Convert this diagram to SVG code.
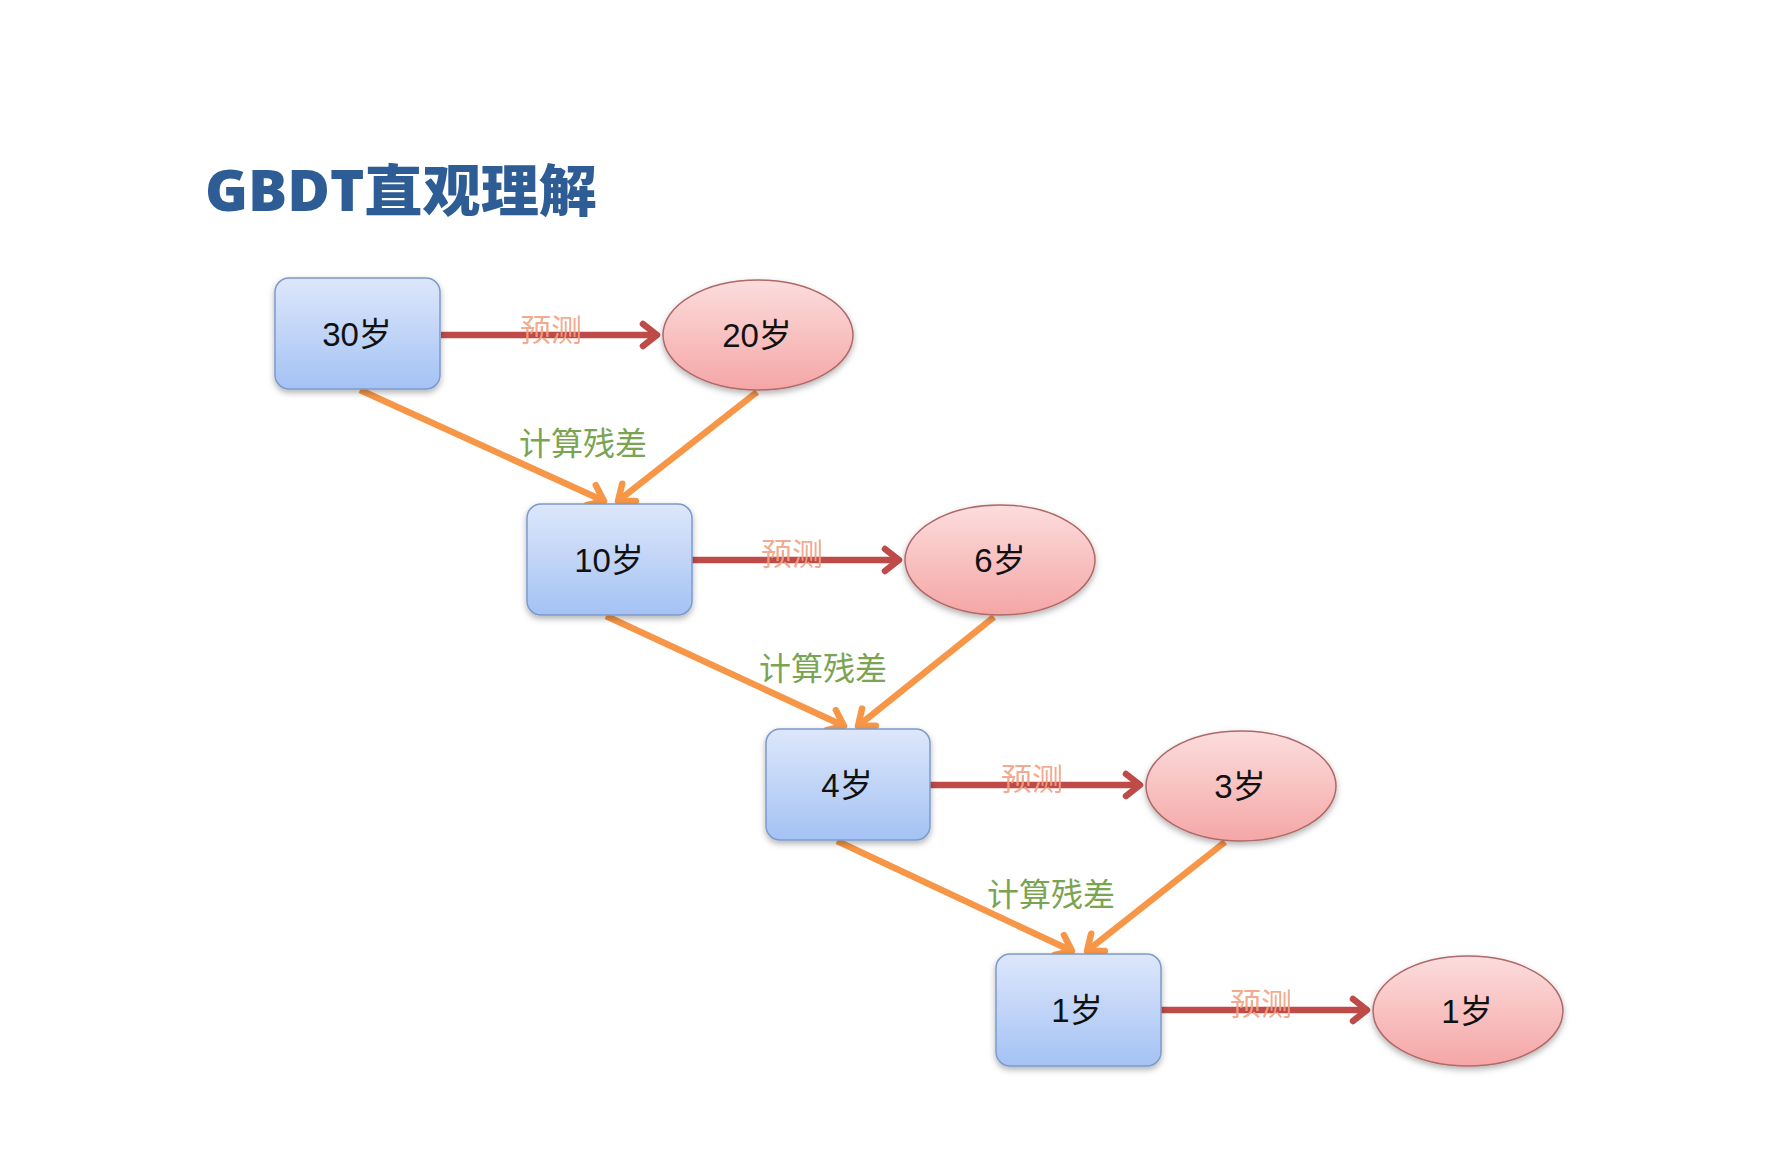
<svg xmlns="http://www.w3.org/2000/svg" width="1792" height="1171" viewBox="0 0 1792 1171">
  <defs>
    <linearGradient id="gBlue" x1="0" y1="0" x2="0" y2="1">
      <stop offset="0" stop-color="#DDE7FB"/>
      <stop offset="1" stop-color="#A4C2F4"/>
    </linearGradient>
    <linearGradient id="gPink" x1="0" y1="0" x2="0" y2="1">
      <stop offset="0" stop-color="#FCDDDD"/>
      <stop offset="1" stop-color="#F5A6A6"/>
    </linearGradient>
    <filter id="shadow" x="-20%" y="-20%" width="140%" height="150%">
      <feDropShadow dx="0" dy="3" stdDeviation="3" flood-color="#000" flood-opacity="0.3"/>
    </filter>
    <marker id="arrRed" markerUnits="userSpaceOnUse" markerWidth="30" markerHeight="30" refX="18" refY="13" orient="auto" overflow="visible">
      <path d="M4,2 L18,13 L4,24" fill="none" stroke="#BE4B48" stroke-width="6.5" stroke-linecap="round" stroke-linejoin="round"/>
    </marker>
    <marker id="arrOrange" markerUnits="userSpaceOnUse" markerWidth="30" markerHeight="30" refX="18" refY="13" orient="auto" overflow="visible">
      <path d="M4,2 L18,13 L4,24" fill="none" stroke="#F79646" stroke-width="6.5" stroke-linecap="round" stroke-linejoin="round"/>
    </marker>
  </defs>
  <style>
    .title { font-family: "Open Sans", "Noto Sans CJK SC", sans-serif; font-weight: 800; font-size: 56px; fill: #2E5C94; }
    .box { fill: url(#gBlue); stroke: #7C9ACB; stroke-width: 1.5; filter: url(#shadow); }
    .oval { fill: url(#gPink); stroke: #B06868; stroke-width: 1.5; filter: url(#shadow); }
    .nt { font-family: "Liberation Sans", "Noto Sans CJK SC", sans-serif; font-size: 33px; fill: #111; text-anchor: middle; dominant-baseline: central; }
    .pred { stroke: #BE4B48; stroke-width: 6.5; fill: none; marker-end: url(#arrRed); }
    .res { stroke: #F79646; stroke-width: 6.5; fill: none; marker-end: url(#arrOrange); }
    .lp { font-family: "Noto Sans CJK SC", sans-serif; font-size: 31px; fill: #F2A383; opacity: 0.9; text-anchor: middle; dominant-baseline: central; }
    .lr { font-family: "Noto Sans CJK SC", sans-serif; font-size: 32px; fill: #7AA452; text-anchor: middle; dominant-baseline: central; }
  </style>
  <rect width="1792" height="1171" fill="#FFFFFF"/>
  <text class="title" x="205" y="211" textLength="392" lengthAdjust="spacingAndGlyphs">GBDT直观理解</text>

  <g id="connectors">
    <line class="pred" x1="441" y1="335" x2="657" y2="335"/>
    <line class="pred" x1="692" y1="560" x2="899" y2="560"/>
    <line class="pred" x1="930" y1="785" x2="1140" y2="785"/>
    <line class="pred" x1="1161" y1="1010" x2="1367" y2="1010"/>

    <line class="res" x1="360" y1="390" x2="604" y2="501"/>
    <line class="res" x1="757" y1="392" x2="618" y2="501"/>
    <line class="res" x1="606" y1="616" x2="844" y2="726"/>
    <line class="res" x1="994" y1="617" x2="858" y2="726"/>
    <line class="res" x1="837" y1="841" x2="1072" y2="951"/>
    <line class="res" x1="1225" y1="842" x2="1087" y2="951"/>

    <text class="lp" x="551" y="327">预测</text>
    <text class="lp" x="792" y="551">预测</text>
    <text class="lp" x="1032" y="776">预测</text>
    <text class="lp" x="1261" y="1001">预测</text>

    <text class="lr" x="583" y="441">计算残差</text>
    <text class="lr" x="823" y="666">计算残差</text>
    <text class="lr" x="1051" y="892">计算残差</text>
  </g>

  <g id="r30">
    <rect class="box" x="275" y="278" width="165" height="111" rx="14"/>
    <text class="nt" x="357" y="334">30岁</text>
  </g>
  <g id="p20">
    <ellipse class="oval" cx="758" cy="335" rx="95" ry="55"/>
    <text class="nt" x="757" y="335">20岁</text>
  </g>
  <g id="r10">
    <rect class="box" x="527" y="504" width="165" height="111" rx="14"/>
    <text class="nt" x="609" y="560">10岁</text>
  </g>
  <g id="p6">
    <ellipse class="oval" cx="1000" cy="560" rx="95" ry="55"/>
    <text class="nt" x="1000" y="560">6岁</text>
  </g>
  <g id="r4">
    <rect class="box" x="766" y="729" width="164" height="111" rx="14"/>
    <text class="nt" x="847" y="785">4岁</text>
  </g>
  <g id="p3">
    <ellipse class="oval" cx="1241" cy="786" rx="95" ry="55"/>
    <text class="nt" x="1240" y="786">3岁</text>
  </g>
  <g id="r1">
    <rect class="box" x="996" y="954" width="165" height="112" rx="14"/>
    <text class="nt" x="1077" y="1010">1岁</text>
  </g>
  <g id="p1">
    <ellipse class="oval" cx="1468" cy="1011" rx="95" ry="55"/>
    <text class="nt" x="1467" y="1011">1岁</text>
  </g>
</svg>
